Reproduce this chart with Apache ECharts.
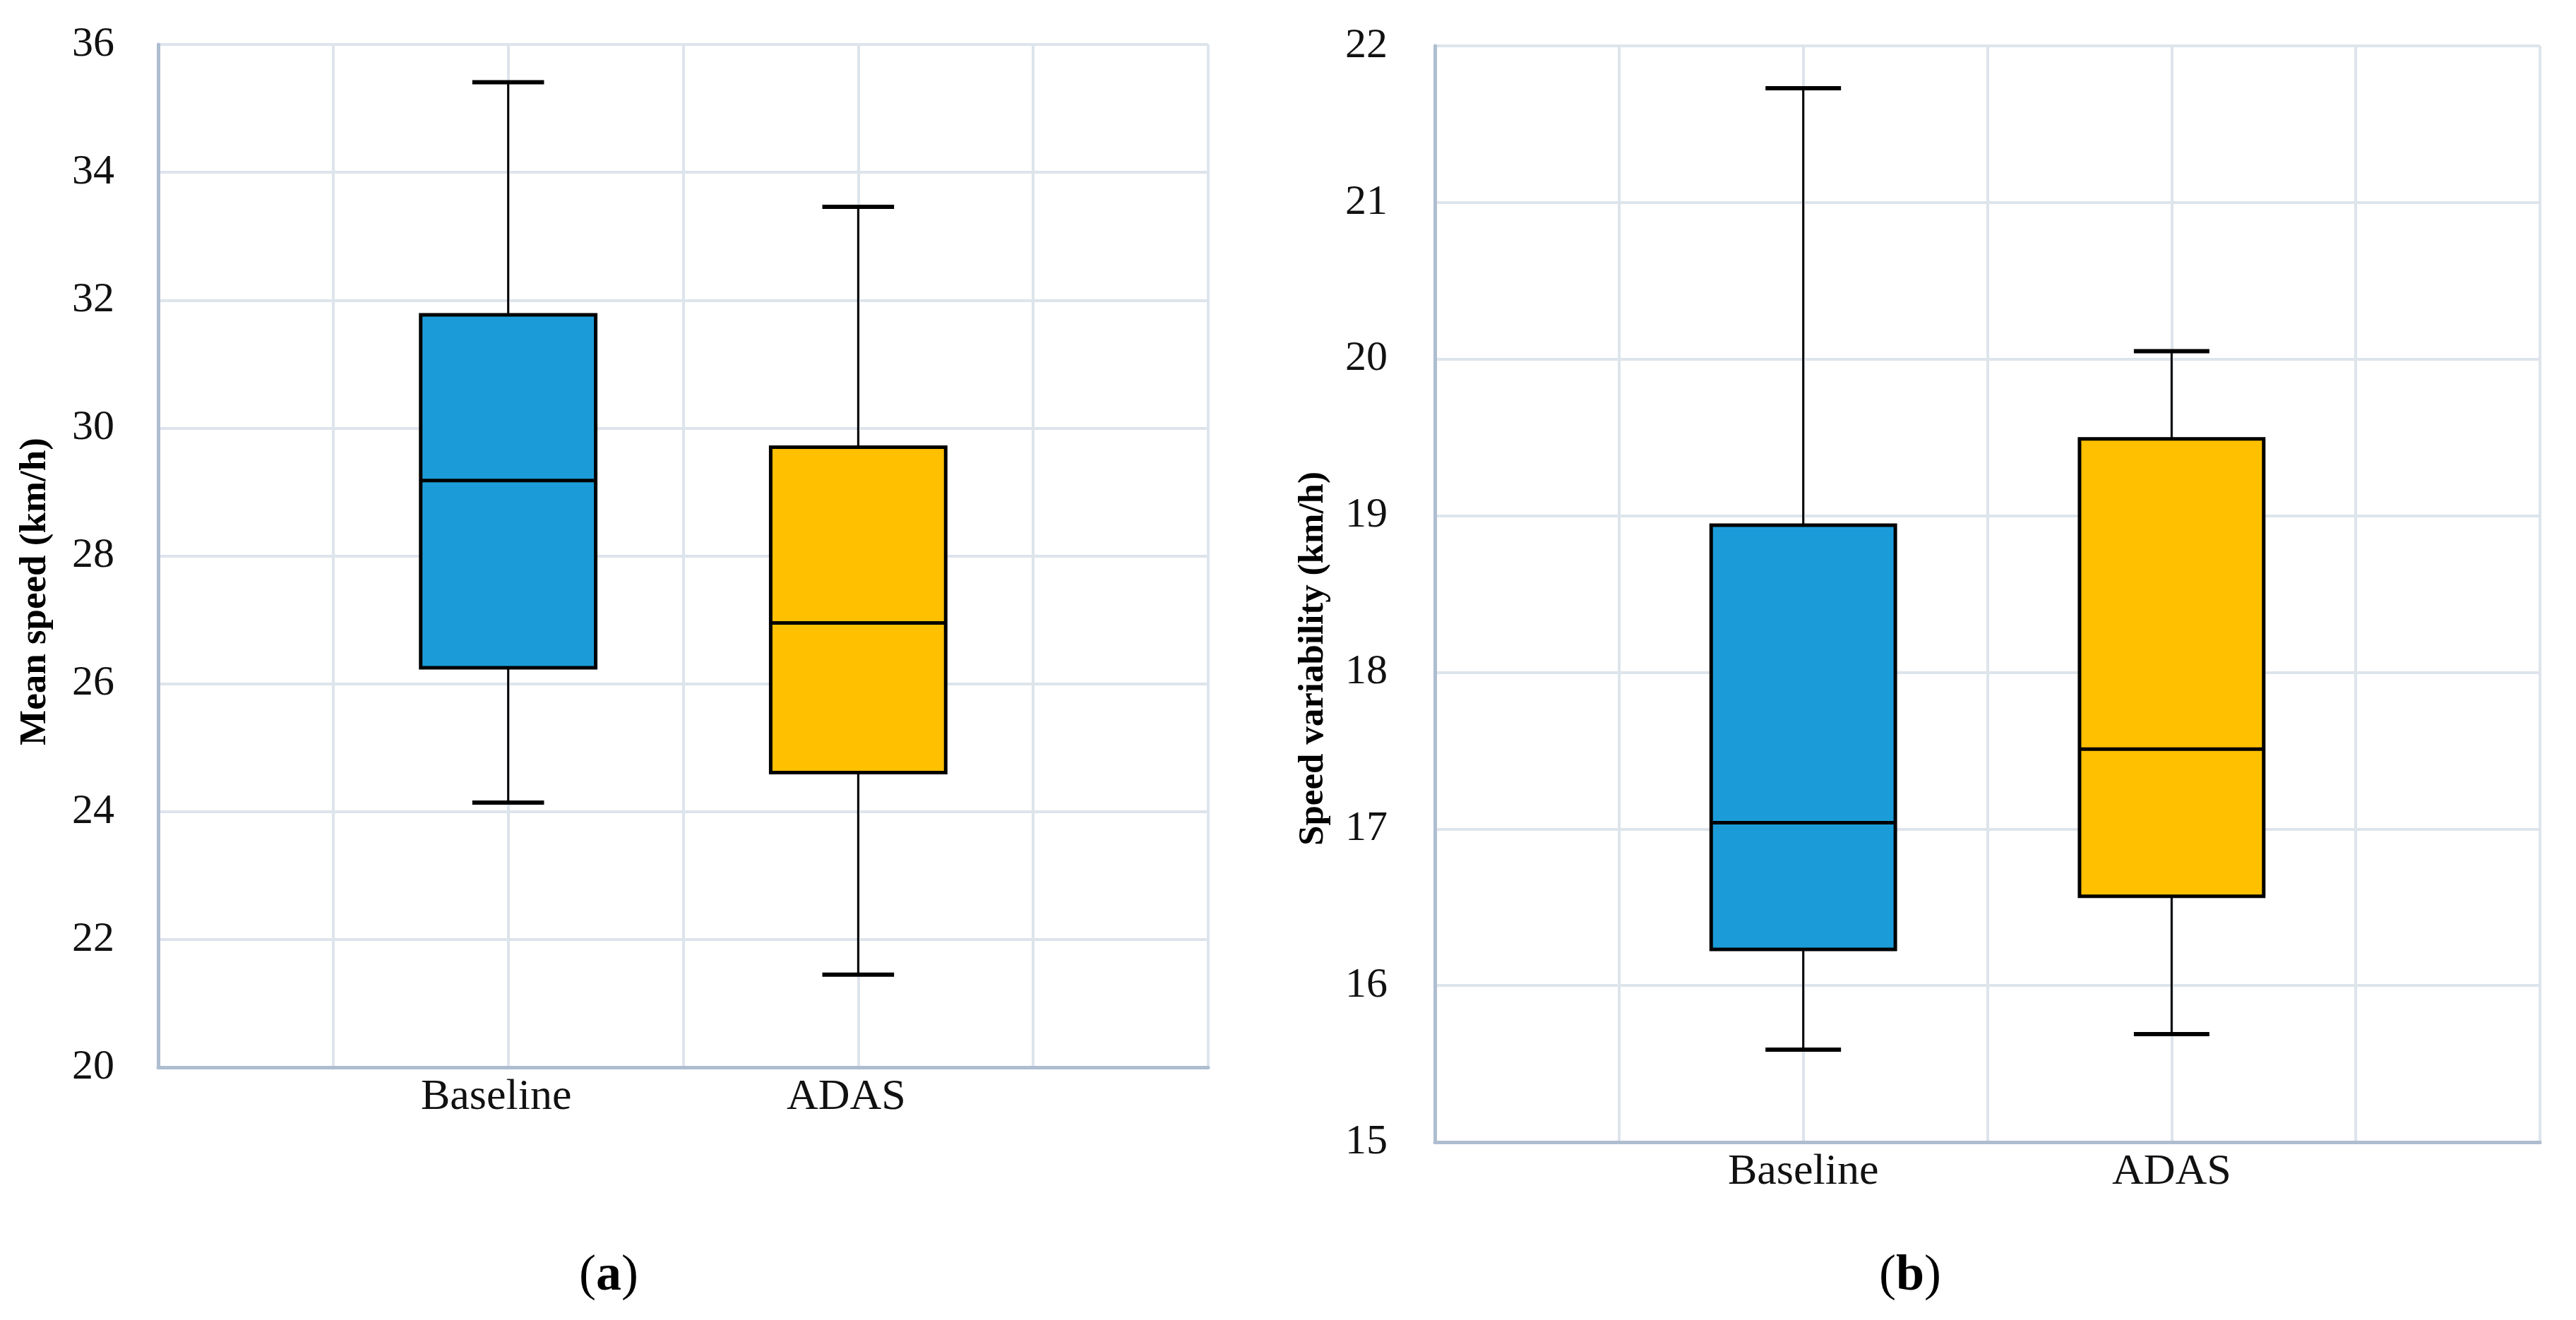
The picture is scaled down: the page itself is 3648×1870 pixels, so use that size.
<!DOCTYPE html>
<html>
<head>
<meta charset="utf-8">
<script src="https://cdn.jsdelivr.net/npm/echarts@6/dist/echarts.min.js"></script>
<style>
html,body{margin:0;padding:0;background:#fff;}
#chart{width:3648px;height:1870px;}
</style>
</head>
<body>
<div id="chart"></div>
<script>
// Category slots (Excel-like axis with 6 intervals; labels on slots 2 and 4)
const axisSlots = ['', '', 'Baseline', '', 'ADAS', '', ''];
const groupNames = ['Baseline', 'ADAS'];
const groupSlots = [2, 4];
const groupColors = ['#1b9cd8', '#ffc000'];

// (a) Mean speed (km/h): [min, Q1, median, Q3, max]
const meanSpeedBaseline = [24.14, 26.25, 29.18, 31.77, 35.41];
const meanSpeedADAS = [21.45, 24.61, 26.95, 29.70, 33.46];

// (b) Speed variability (km/h): [min, Q1, median, Q3, max]
const speedVarBaseline = [15.59, 16.23, 17.04, 18.94, 21.73];
const speedVarADAS = [15.69, 16.57, 17.51, 19.49, 20.05];

const yTicksA = {min: 20, max: 36, interval: 2};
const yTicksB = {min: 15, max: 22, interval: 1};

const titleA = 'Mean speed (km/h)';
const titleB = 'Speed variability (km/h)';
const panelA = 'a';
const panelB = 'b';

const FONT = '"Liberation Serif", "DejaVu Serif", serif';
const AXIS_COLOR = '#aebdd0';
const GRID_COLOR = '#dde4ec';

function renderBox(params, api) {
  const x = api.value(0);
  const pMin = api.coord([x, api.value(1)]);
  const pQ1 = api.coord([x, api.value(2)]);
  const pMed = api.coord([x, api.value(3)]);
  const pQ3 = api.coord([x, api.value(4)]);
  const pMax = api.coord([x, api.value(5)]);
  const band = api.size([1, 0])[0];
  const boxW = band * 1.0;
  const capW = band * 0.41;
  const cx = pMed[0];
  const fill = groupColors[api.value(6)];
  const lineStyle = {stroke: '#000', lineWidth: 3};
  return {
    type: 'group',
    children: [
      {type: 'line', shape: {x1: cx, y1: pMax[1], x2: cx, y2: pQ3[1]}, style: lineStyle},
      {type: 'line', shape: {x1: cx, y1: pQ1[1], x2: cx, y2: pMin[1]}, style: lineStyle},
      {type: 'line', shape: {x1: cx - capW / 2, y1: pMax[1], x2: cx + capW / 2, y2: pMax[1]}, style: {stroke: '#000', lineWidth: 6}},
      {type: 'line', shape: {x1: cx - capW / 2, y1: pMin[1], x2: cx + capW / 2, y2: pMin[1]}, style: {stroke: '#000', lineWidth: 6}},
      {type: 'rect', shape: {x: cx - boxW / 2, y: pQ3[1], width: boxW, height: pQ1[1] - pQ3[1]}, style: {fill: fill, stroke: '#000', lineWidth: 5}},
      {type: 'line', shape: {x1: cx - boxW / 2, y1: pMed[1], x2: cx + boxW / 2, y2: pMed[1]}, style: {stroke: '#000', lineWidth: 5}}
    ]
  };
}

function boxData(base, adas) {
  return [
    [groupSlots[0]].concat(base, [0]),
    [groupSlots[1]].concat(adas, [1])
  ];
}

function xAxisCfg(gridIndex, labelPad) {
  return {
    type: 'category', gridIndex: gridIndex, data: axisSlots, boundaryGap: false,
    axisLine: {show: true, lineStyle: {color: AXIS_COLOR, width: 5}},
    axisTick: {show: false},
    axisLabel: {interval: 0, color: '#111', fontFamily: FONT, fontSize: 62, margin: 12, padding: labelPad},
    splitLine: {show: true, lineStyle: {color: GRID_COLOR, width: 4}}
  };
}
function yAxisCfg(gridIndex, t, margin) {
  return {
    type: 'value', gridIndex: gridIndex, min: t.min, max: t.max, interval: t.interval,
    axisLine: {show: true, lineStyle: {color: AXIS_COLOR, width: 5}},
    axisTick: {show: false},
    axisLabel: {color: '#111', fontFamily: FONT, fontSize: 60, margin: margin},
    splitLine: {show: true, lineStyle: {color: GRID_COLOR, width: 4}}
  };
}

const chart = echarts.init(document.getElementById('chart'));
chart.setOption({
  backgroundColor: '#fff',
  animation: false,
  grid: [
    {left: 224, top: 63, width: 1487, height: 1449},
    {left: 2032, top: 65, width: 1565, height: 1553}
  ],
  xAxis: [xAxisCfg(0, [0, 34, 0, 0]), xAxisCfg(1, [0, 0, 0, 0])],
  yAxis: [yAxisCfg(0, yTicksA, 62), yAxisCfg(1, yTicksB, 67)],
  series: [
    {type: 'custom', name: titleA, xAxisIndex: 0, yAxisIndex: 0, renderItem: renderBox,
     encode: {x: 0, y: [1, 2, 3, 4, 5]}, data: boxData(meanSpeedBaseline, meanSpeedADAS), z: 10},
    {type: 'custom', name: titleB, xAxisIndex: 1, yAxisIndex: 1, renderItem: renderBox,
     encode: {x: 0, y: [1, 2, 3, 4, 5]}, data: boxData(speedVarBaseline, speedVarADAS), z: 10}
  ],
  graphic: [
    {type: 'text', x: 50, y: 838, rotation: Math.PI / 2,
     style: {text: titleA, fontFamily: FONT, fontWeight: 'bold', fontSize: 53, fill: '#000', align: 'center', verticalAlign: 'middle'}},
    {type: 'text', x: 1860, y: 933, rotation: Math.PI / 2,
     style: {text: titleB, fontFamily: FONT, fontWeight: 'bold', fontSize: 51, fill: '#000', align: 'center', verticalAlign: 'middle'}},
    {type: 'text', x: 862, y: 1808,
     style: {text: '{p|(}{b|' + panelA + '}{p|)}', align: 'center', verticalAlign: 'middle',
       rich: {p: {fontFamily: FONT, fontSize: 72, fill: '#000'}, b: {fontFamily: FONT, fontSize: 72, fontWeight: 'bold', fill: '#000'}}}},
    {type: 'text', x: 2705, y: 1808,
     style: {text: '{p|(}{b|' + panelB + '}{p|)}', align: 'center', verticalAlign: 'middle',
       rich: {p: {fontFamily: FONT, fontSize: 72, fill: '#000'}, b: {fontFamily: FONT, fontSize: 72, fontWeight: 'bold', fill: '#000'}}}}
  ]
});
</script>
</body>
</html>
